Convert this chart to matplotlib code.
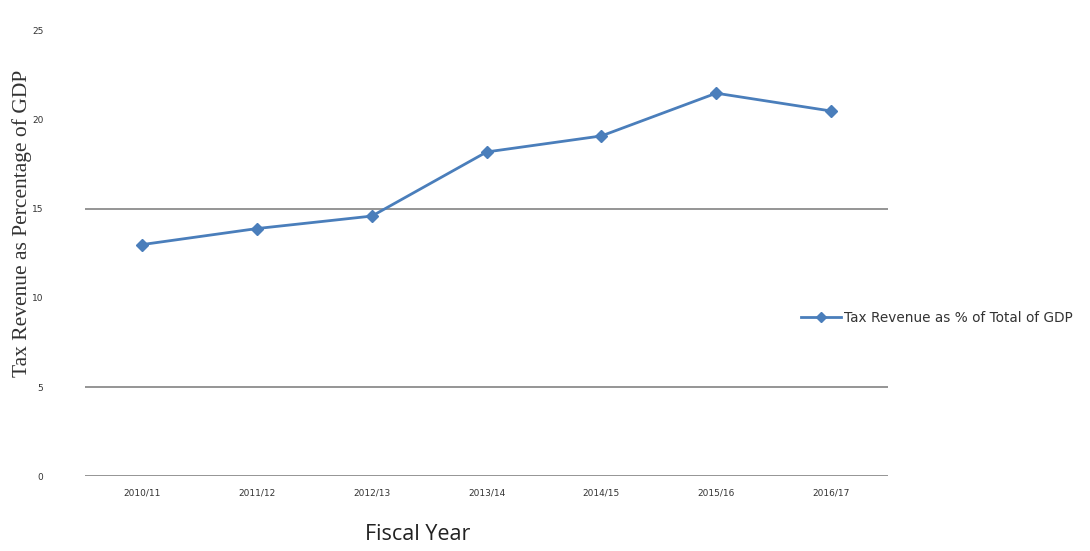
import matplotlib
matplotlib.use('Agg')
import matplotlib.pyplot as plt

years = ['2010/11', '2011/12', '2012/13', '2013/14', '2014/15', '2015/16', '2016/17']
tax_pct = [13.0, 13.9, 14.6, 18.2, 19.1, 21.5, 20.5]
y_ticks = [0, 5, 10, 15, 20, 25]
grid_levels = [0, 5, 15]   # only these gridlines survive in the source image

blue = '#4a7ebb'

fig = plt.figure(figsize=(10.9, 5.51), dpi=100)
ax = fig.add_axes([0.078, 0.136, 0.737, 0.808])

x = list(range(len(years)))
ax.plot(x, tax_pct, color=blue, lw=2.0, marker='D', ms=6, mfc=blue, mec=blue,
        label='Tax Revenue as % of Total of GDP', zorder=3)

for g in grid_levels:
    ax.axhline(g, color='#8c8c8c', lw=1.3, zorder=1)

ax.set_xlim(-0.5, len(years) - 0.5)
ax.set_ylim(0, 25)
ax.set_xticks(x)
ax.set_xticklabels(years, fontsize=6.5, color='#333333', family='DejaVu Sans')
ax.set_yticks(y_ticks)
ax.set_yticklabels([str(t) for t in y_ticks], fontsize=6.5, color='#333333', family='DejaVu Sans')
ax.tick_params(axis='x', length=0, pad=9)
ax.tick_params(axis='y', length=0, pad=30)
for s in ax.spines.values():
    s.set_visible(False)

fig.text(0.02, 0.595, 'Tax Revenue as Percentage of GDP', rotation=90, ha='center', va='center',
         fontsize=15.5, family='Liberation Serif', color='#333333')
fig.text(0.383, 0.03, 'Fiscal Year', ha='center', va='center', fontsize=15.5,
         family='Open Sans', color='#222222')

leg = ax.legend(loc='center left', bbox_to_anchor=(0.884, 0.355), frameon=False,
                handlelength=3.0, handletextpad=0.2, borderaxespad=0, markerscale=0.8,
                prop={'family': 'DejaVu Sans', 'size': 9.8})
for t in leg.get_texts():
    t.set_color('#333333')

fig.savefig('out.png', dpi=100)
